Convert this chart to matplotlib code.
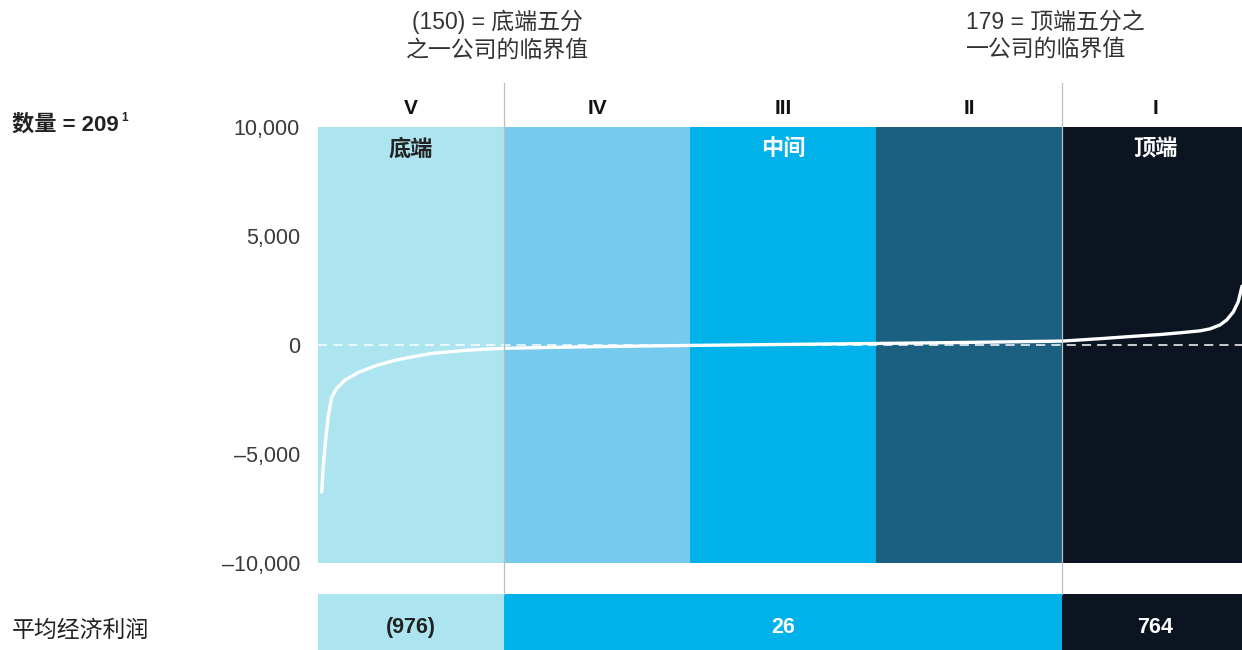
import matplotlib
matplotlib.use("Agg")
import matplotlib.pyplot as plt
from matplotlib.lines import Line2D

plt.rcParams['font.family'] = ['Liberation Sans', 'Noto Sans CJK SC', 'DejaVu Sans']

# quintile bands
quintile_labels = ['V', 'IV', 'III', 'II', 'I']
band_names = ['底端', '', '中间', '', '顶端']
band_colors = ['#ACE5EF', '#76CAED', '#00B1EA', '#1B5F81', '#0C1321']
band_text_colors = ['#222222', 'white', 'white', 'white', 'white']
band_edges = [0, 20, 40, 60, 80, 100]

# sorted economic profit curve (x = company rank in percent)
rank_pct = [0.40, 0.57, 0.83, 1.11, 1.47, 2.01, 2.90, 4.33, 6.13, 8.28,
            10.43, 12.37, 15.99, 19.92, 30.0, 40.0, 50.0, 60.0, 70.0, 80.0,
            84.09, 88.39, 90.54, 92.69, 94.84, 95.91, 96.99, 97.71, 98.42,
            98.96, 99.35]
econ_profit = [-6750, -5530, -4310, -3240, -2400, -1990, -1610, -1260, -960, -700,
               -520, -380, -240, -150, -75, -20, 25, 70, 120, 179,
               290, 420, 480, 560, 650, 740, 920, 1150, 1520,
               2000, 2700]

yticks = [10000, 5000, 0, -5000, -10000]
ytick_labels = ['10,000', '5,000', '0', '–5,000', '–10,000']

# average economic profit row
avg_start = [0, 20, 80]
avg_width = [20, 60, 20]
avg_values = [-976, 26, 764]
avg_colors = ['#ACE5EF', '#00B1EA', '#0C1321']
avg_text_colors = ['#222222', 'white', 'white']

count_label = '数量 = 209'
avg_label = '平均经济利润'
low_note = '(150) = 底端五分\n之一公司的临界值'
high_note = '179 = 顶端五分之\n一公司的临界值'

W, H = 1242, 650
fig = plt.figure(figsize=(W / 100, H / 100), dpi=100)

# main axes: x 318..1242 px, y 127..563 px
ax = fig.add_axes([318 / W, 1 - 563 / H, (W - 318) / W, 436 / H])
for i in range(5):
    ax.axvspan(band_edges[i], band_edges[i + 1], color=band_colors[i], lw=0, zorder=0)
    xc = (band_edges[i] + band_edges[i + 1]) / 2
    if band_names[i]:
        ax.text(xc, 8950, band_names[i], ha='center', va='center', fontsize=16,
                fontweight='bold', color=band_text_colors[i], zorder=5)
    ax.text(xc, 10870, quintile_labels[i], ha='center', va='center', fontsize=15,
            fontweight='bold', color='#111111', clip_on=False)

ax.axhline(0, color='white', lw=1.1, ls=(0, (6, 4)), zorder=2)
ax.plot(rank_pct, econ_profit, color='white', lw=2.4, solid_capstyle='round',
        solid_joinstyle='round', zorder=3)

ax.set_xlim(0, 99.35)
ax.set_ylim(-10000, 10000)
ax.set_yticks(yticks)
ax.set_yticklabels(ytick_labels, fontsize=15.5, color='#3a3a3a')
ax.tick_params(axis='y', length=0, pad=13)
ax.set_xticks([])
for s in ax.spines.values():
    s.set_visible(False)

# bottom row: y 594..650 px
ax2 = fig.add_axes([318 / W, 0, (W - 318) / W, 56 / H])
ax2.barh(0, avg_width, left=avg_start, height=1, color=avg_colors, lw=0)
for st, wd, v, tc in zip(avg_start, avg_width, avg_values, avg_text_colors):
    txt = f'({abs(v)})' if v < 0 else f'{v}'
    ax2.text(st + wd / 2, -0.09, txt, ha='center', va='center', fontsize=15.5,
             fontweight='bold', color=tc)
ax2.set_xlim(0, 99.35)
ax2.set_ylim(-0.5, 0.5)
ax2.axis('off')

# threshold divider lines
for xp in [504, 1062]:
    fig.add_artist(Line2D([xp / W, xp / W], [1 - 83 / H, 1 - 594 / H],
                          color='#b8c0c4', lw=0.9, zorder=1.5))

fig.text(497 / W, 1 - 36 / H, low_note, ha='center', va='center', fontsize=16.5,
         color='#333333', linespacing=1.25)
fig.text(966 / W, 1 - 36 / H, high_note, ha='left', va='center', fontsize=16.5,
         color='#333333', linespacing=1.25)

cnt = fig.text(12 / W, 1 - 125 / H, count_label, ha='left', va='center', fontsize=16,
               fontweight='bold', color='#222222')
fig.canvas.draw()
bb = cnt.get_window_extent()
fig.text((bb.x1 + 2) / W, 1 - 118 / H, '1', ha='left', va='center', fontsize=8.5,
         fontweight='bold', color='#222222')
fig.text(12 / W, 1 - 630 / H, avg_label, ha='left', va='center', fontsize=16.5,
         color='#222222')

fig.savefig('out.png', dpi=100)
